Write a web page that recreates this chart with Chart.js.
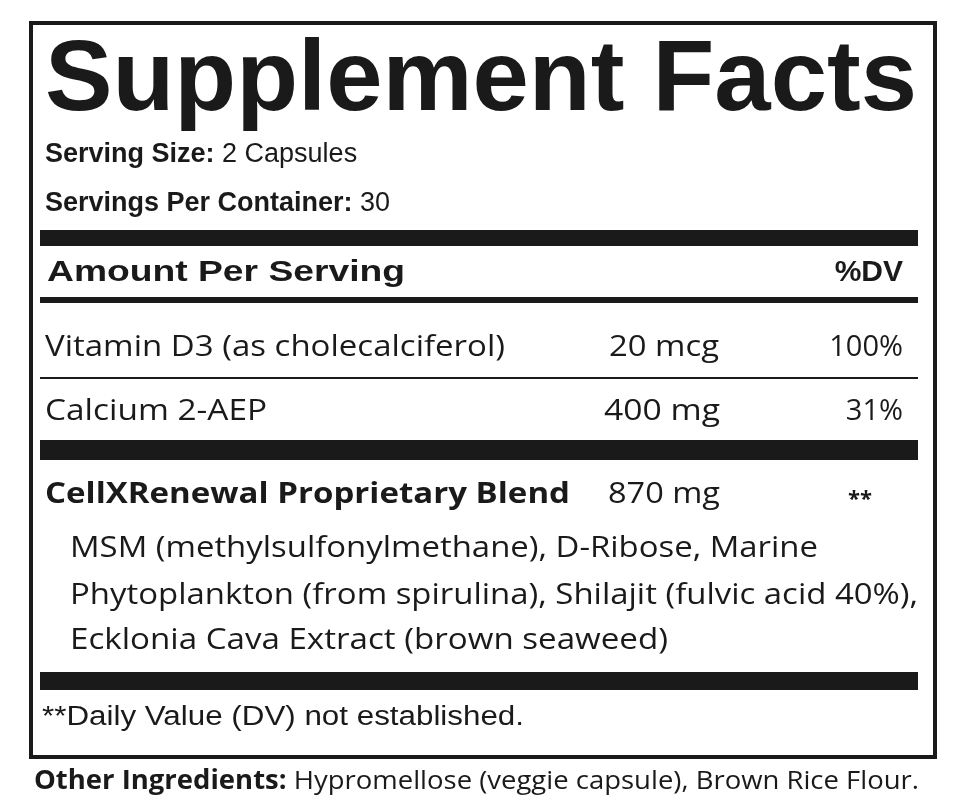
<!DOCTYPE html>
<html><head><meta charset="utf-8">
<script src="https://cdn.jsdelivr.net/npm/chart.js@4"></script>
<style>html,body{margin:0;background:#fff}#wrap{width:954px;height:808px}</style>
</head><body><div id="wrap"><canvas id="c"></canvas></div>
<script>
// label content
const title = 'Supplement Facts';
const servingInfo = [['Serving Size:', ' 2 Capsules'], ['Servings Per Container:', ' 30']];
const header = ['Amount Per Serving', '%DV'];
const nutrients = ['Vitamin D3 (as cholecalciferol)', 'Calcium 2-AEP'];
const amounts = ['20 mcg', '400 mg'];
const dv = ['100%', '31%'];
const blend = ['CellXRenewal Proprietary Blend', '870 mg', '**'];
const blendLines = [
  'MSM (methylsulfonylmethane), D-Ribose, Marine',
  'Phytoplankton (from spirulina), Shilajit (fulvic acid 40%),',
  'Ecklonia Cava Extract (brown seaweed)'
];
const footnote = '**Daily Value (DV) not established.';
const other = ['Other Ingredients:', ' Hypromellose (veggie capsule), Brown Rice Flour.'];

const INK = '#1a1a1a';
const SANS = "'Liberation Sans', Arial, sans-serif";
const BODY = "'Open Sans', 'Noto Sans', sans-serif";

function fitText(ctx, txt, x, y, w, font) {
  ctx.font = font;
  const m = ctx.measureText(txt).width;
  ctx.save(); ctx.translate(x, y); ctx.scale(w / m, 1);
  ctx.fillText(txt, 0, 0); ctx.restore();
}

const labelPlugin = {
  id: 'label',
  afterDraw(chart) {
    const ctx = chart.ctx;
    ctx.save();
    ctx.fillStyle = INK; ctx.strokeStyle = INK;
    ctx.lineWidth = 4; ctx.strokeRect(31, 23, 904, 734);
    ctx.textBaseline = 'alphabetic';
    fitText(ctx, title, 45, 110, 872, `bold 100px ${SANS}`);
    ctx.textBaseline = 'middle';
    [155, 204].forEach((y, i) => {
      ctx.font = `bold 27px ${SANS}`;
      ctx.fillText(servingInfo[i][0], 45, y);
      const w = ctx.measureText(servingInfo[i][0]).width;
      ctx.font = `27px ${SANS}`;
      ctx.fillText(servingInfo[i][1], 45 + w, y);
    });
    [[40, 230, 16], [40, 297, 6], [40, 377, 2], [40, 440, 20], [40, 672, 18]].forEach(([x, y, h]) =>
      ctx.fillRect(x, y, 878, h));
    ctx.font = `bold 30px ${SANS}`;
    fitText(ctx, header[0], 47, 273, 358, `bold 30px ${SANS}`);
    ctx.font = `bold 30px ${SANS}`;
    ctx.textAlign = 'right'; ctx.fillText(header[1], 903, 273); ctx.textAlign = 'left';
    [348, 412].forEach((y, i) => {
      fitText(ctx, nutrients[i], 45, y, i ? 222 : 460, `29px ${BODY}`);
      fitText(ctx, amounts[i], i ? 604 : 609, y, i ? 116 : 110, `29px ${BODY}`);
      ctx.font = `29px ${BODY}`;
      ctx.textAlign = 'right'; ctx.fillText(dv[i], 903, y); ctx.textAlign = 'left';
    });
    fitText(ctx, blend[0], 45, 495, 525, `bold 29px ${BODY}`);
    fitText(ctx, blend[1], 608, 495, 112, `29px ${BODY}`);
    ctx.font = `bold 22px ${BODY}`;
    ctx.fillText(blend[2], 848, 500);
    const widths = [748, 848, 598];
    [548, 595, 640].forEach((y, i) => fitText(ctx, blendLines[i], 70, y, widths[i], `30px ${BODY}`));
    fitText(ctx, footnote, 42, 718, 482, `27px ${SANS}`);
    ctx.font = `bold 26px ${BODY}`;
    const w1 = ctx.measureText(other[0]).width;
    ctx.font = `26px ${BODY}`;
    const w2 = ctx.measureText(other[1]).width;
    const s = 885 / (w1 + w2);
    ctx.save(); ctx.translate(34, 782); ctx.scale(s, 1);
    ctx.font = `bold 26px ${BODY}`; ctx.fillText(other[0], 0, 0);
    ctx.font = `26px ${BODY}`; ctx.fillText(other[1], w1, 0);
    ctx.restore();
    ctx.restore();
  }
};

new Chart(document.getElementById('c'), {
  type: 'bar',
  data: { labels: nutrients, datasets: [{ data: [], backgroundColor: 'transparent' }] },
  options: {
    responsive: true, maintainAspectRatio: false, animation: false,
    plugins: { legend: { display: false }, tooltip: { enabled: false } },
    scales: { x: { display: false }, y: { display: false } }
  },
  plugins: [labelPlugin]
});
</script></body></html>
